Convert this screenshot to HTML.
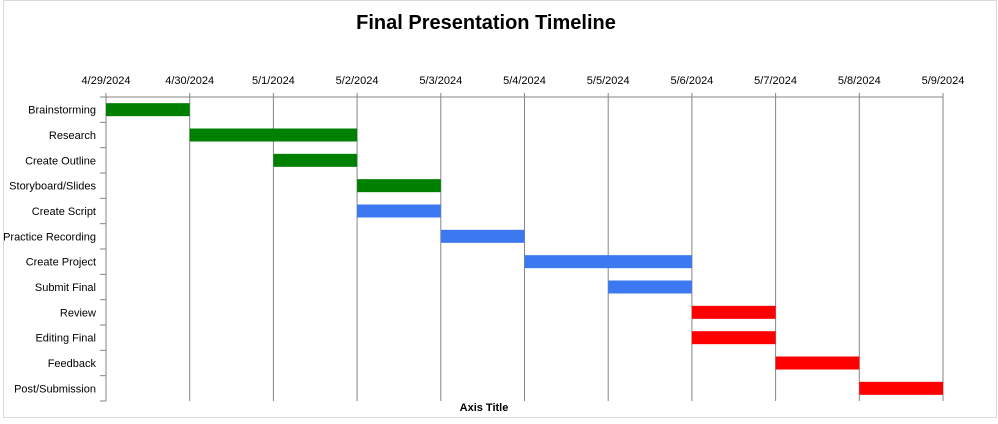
<!DOCTYPE html>
<html><head><meta charset="utf-8"><style>
body{margin:0;background:#fff;font-family:"Liberation Sans",sans-serif}
svg text{font-family:"Liberation Sans",sans-serif}
</style></head><body>
<svg width="998" height="419">
<rect x="3.5" y="0.5" width="993" height="417" fill="#fff" stroke="#d9d9d9"/>
<text x="486" y="29" text-anchor="middle" font-size="20" font-weight="bold">Final Presentation Timeline</text>
<g id="plot"></g>
<text x="484" y="411" text-anchor="middle" font-size="11" font-weight="bold">Axis Title</text>
</svg>
<script>
const tasks=["Brainstorming","Research","Create Outline","Storyboard/Slides","Create Script","Practice Recording","Create Project","Submit Final","Review","Editing Final","Feedback","Post/Submission"];
const startDay=[0,1,2,3,3,4,5,6,7,7,8,9];
const durationDays=[1,2,1,1,1,1,2,1,1,1,1,1];
const colors=["#008000","#008000","#008000","#008000","#3c78f0","#3c78f0","#3c78f0","#3c78f0","#ff0000","#ff0000","#ff0000","#ff0000"];
const tickLabels=["4/29/2024","4/30/2024","5/1/2024","5/2/2024","5/3/2024","5/4/2024","5/5/2024","5/6/2024","5/7/2024","5/8/2024","5/9/2024"];
const NS="http://www.w3.org/2000/svg";
const g=document.getElementById('plot');
const x0=106,x1=943,plotTop=97,plotBot=401;
const xs=d=>x0+(x1-x0)*d/10;
const rowH=(plotBot-plotTop)/tasks.length;
const ys=i=>plotTop+i*rowH;
function mk(t,a){const e=document.createElementNS(NS,t);for(const k in a)e.setAttribute(k,a[k]);g.appendChild(e);return e;}
tickLabels.forEach((l,i)=>{
 const ln=mk('line',{x1:xs(i),x2:xs(i),y1:plotTop-4,y2:plotBot,stroke:'#868686','stroke-width':1});
 
 
 const t=mk('text',{x:xs(i),y:84,'text-anchor':'middle','font-size':11});
 t.textContent=l;
 
 
});
const ax=mk('line',{x1:x0,x2:x1,y1:plotTop,y2:plotTop,stroke:'#868686'});


for(let i=0;i<=tasks.length;i++){
 const tk=mk('line',{x1:x0-6,x2:x0,y1:ys(i),y2:ys(i),stroke:'#868686'});
 
 
}
tasks.forEach((n,i)=>{
 const c=ys(i)+rowH/2;
 const r=mk('rect',{x:xs(startDay[i]),y:c-6.5,width:xs(startDay[i]+durationDays[i])-xs(startDay[i]),height:13,fill:colors[i]});
 
 
 const t=mk('text',{x:96,y:c+4,'text-anchor':'end','font-size':11});
 t.textContent=n;
 
 
});
</script>
</body></html>
